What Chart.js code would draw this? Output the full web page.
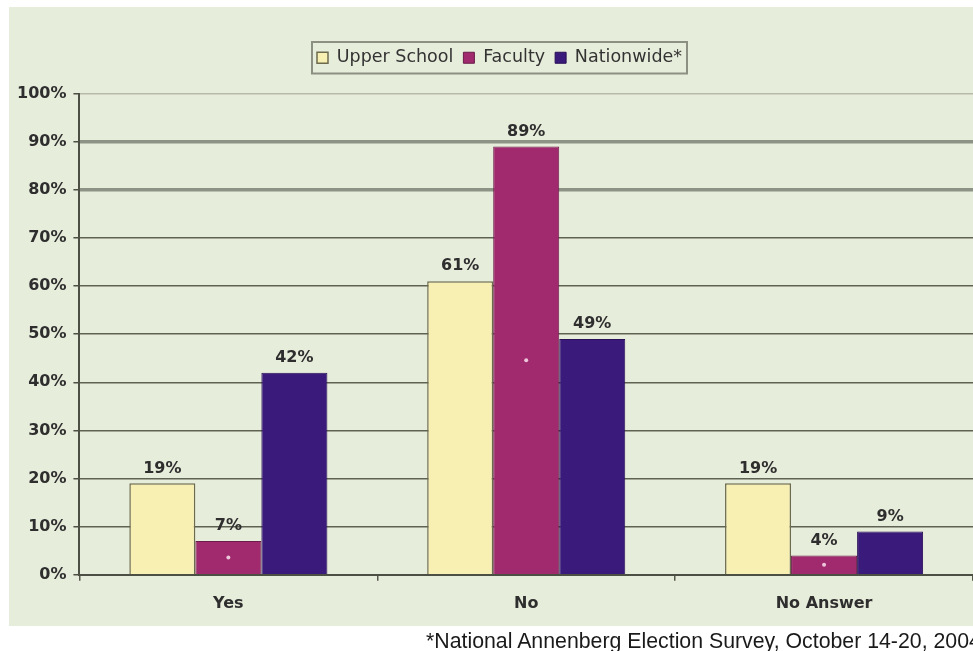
<!DOCTYPE html>
<html>
<head>
<meta charset="utf-8">
<script src="https://cdn.jsdelivr.net/npm/chart.js@4"></script>
<style>
  html, body { margin: 0; padding: 0; background: #fff; overflow: hidden; }
  #wrap { position: relative; width: 973px; height: 651px; }
  #note {
    position: absolute; left: 426px; top: 629px;
    font: 21.3px "Liberation Sans", Arial, sans-serif; color: #1a1a1a;
    white-space: nowrap;
  }
</style>
</head>
<body>
<div id="wrap">
  <canvas id="chart" width="973" height="651"></canvas>
  <div id="note">*National Annenberg Election Survey, October 14-20, 2004</div>
</div>
<script>
var categories = ['Yes', 'No', 'No Answer'];
var upperSchool = [19, 61, 19];
var faculty = [7, 89, 4];
var nationwide = [42, 49, 9];
var yTicks = [0, 10, 20, 30, 40, 50, 60, 70, 80, 90, 100];

var LEGEND_SHIFT = 8;

// greenish panel behind the whole plot
var panel = {
    id: 'panel',
    beforeDraw: function (chart) {
        var ctx = chart.ctx;
        ctx.save();
        ctx.fillStyle = '#e7eddb';
        ctx.fillRect(9, 7, chart.width - 9, 619);
        ctx.restore();
    }
};

// empty layout box that opens a gap between legend and plot
var legendGap = {
    id: 'legendGap',
    beforeInit: function (chart) {
        var gap = {
            position: 'top',
            weight: 500,
            fullSize: true,
            options: {},
            left: 0, top: 0, right: 0, bottom: 0, width: 0, height: 0,
            isHorizontal: function () { return true; },
            getPadding: function () { return { left: 0, top: 0, right: 0, bottom: 0 }; },
            update: function (maxWidth) {
                this.width = maxWidth;
                this.height = 17;
            },
            draw: function () {}
        };
        Chart.layouts.addBox(chart, gap);
    },
    // nudge the legend a little to the right of centre
    afterLayout: function (chart) {
        var lg = chart.legend;
        if (!lg) return;
        lg.left += LEGEND_SHIFT;
        lg.right += LEGEND_SHIFT;
    }
};

// frame round the legend
var legendFrame = {
    id: 'legendFrame',
    afterDraw: function (chart) {
        var boxes = chart.legend.legendHitBoxes;
        if (!boxes || !boxes.length) return;
        var l = boxes[0].left, r = 0, t = boxes[0].top, b = 0;
        boxes.forEach(function (h) {
            l = Math.min(l, h.left);
            r = Math.max(r, h.left + h.width);
            t = Math.min(t, h.top);
            b = Math.max(b, h.top + h.height);
        });
        var ctx = chart.ctx;
        ctx.save();
        ctx.strokeStyle = '#8b9083';
        ctx.lineWidth = 2;
        ctx.strokeRect(l - 5, t - 7, r - l + 10, b - t + 14);
        ctx.restore();
    }
};

// percent labels over the bars, plus the little dot in the faculty bars
var barLabels = {
    id: 'barLabels',
    afterDatasetsDraw: function (chart) {
        var ctx = chart.ctx;
        ctx.save();
        chart.data.datasets.forEach(function (ds, i) {
            chart.getDatasetMeta(i).data.forEach(function (bar, j) {
                ctx.fillStyle = '#2e2e2e';
                ctx.font = 'bold 16px "DejaVu Sans"';
                ctx.textAlign = 'center';
                ctx.textBaseline = 'middle';
                ctx.fillText(ds.data[j] + '%', bar.x, bar.y - 15);
                if (i === 1) {
                    ctx.fillStyle = '#ecc7dc';
                    ctx.beginPath();
                    ctx.arc(bar.x, (bar.y + bar.base) / 2, 2, 0, Math.PI * 2);
                    ctx.fill();
                }
            });
        });
        ctx.restore();
    }
};

function gridColor(c) {
    var v = c.tick ? c.tick.value : 0;
    if (v === 80 || v === 90) return '#8e9485';
    if (v === 100) return '#b5bba8';
    if (v === 0) return 'rgba(0,0,0,0)';
    return '#5e6253';
}
function gridWidth(c) {
    var v = c.tick ? c.tick.value : 0;
    return (v === 80 || v === 90) ? 3.5 : 1.5;
}

var chart = new Chart('chart', {
    type: 'bar',
    data: {
        labels: categories,
        datasets: [
            {
                label: 'Upper School',
                data: upperSchool,
                backgroundColor: '#f8f0b3',
                borderColor: '#6d6a4e',
                borderWidth: 1.5
            },
            {
                label: 'Faculty',
                data: faculty,
                backgroundColor: '#a1296d',
                borderColor: '#6b1c4a',
                borderWidth: 1
            },
            {
                label: 'Nationwide*',
                data: nationwide,
                backgroundColor: '#3a1a7a',
                borderColor: '#2a1058',
                borderWidth: 1
            }
        ]
    },
    options: {
        responsive: false,
        animation: false,
        categoryPercentage: 0.665,
        barPercentage: 1,
        layout: {
            padding: { top: 39, left: 10, right: 0, bottom: 25 }
        },
        plugins: {
            tooltip: { enabled: false },
            legend: {
                position: 'top',
                labels: {
                    boxWidth: 11,
                    boxHeight: 11,
                    padding: 10,
                    color: '#333',
                    font: { family: '"DejaVu Sans"', size: 17.5 }
                }
            }
        },
        scales: {
            x: {
                offset: true,
                grid: {
                    offset: true,
                    drawOnChartArea: false,
                    tickLength: 6,
                    color: '#55584b',
                    lineWidth: 1.5
                },
                border: { color: '#4c4f43', width: 2 },
                ticks: {
                    padding: 13,
                    color: '#2e2e2e',
                    font: { family: '"DejaVu Sans"', weight: 'bold', size: 16 }
                }
            },
            y: {
                min: 0,
                max: 100,
                afterBuildTicks: function (scale) {
                    scale.ticks = yTicks.map(function (v) { return { value: v }; });
                },
                grid: {
                    color: gridColor,
                    lineWidth: gridWidth,
                    tickLength: 6,
                    tickColor: '#4c4f43',
                    tickWidth: 1.5
                },
                border: { color: '#4c4f43', width: 2 },
                ticks: {
                    padding: 7,
                    color: '#2e2e2e',
                    font: { family: '"DejaVu Sans"', weight: 'bold', size: 16 },
                    callback: function (v) { return v + '%'; }
                }
            }
        }
    },
    plugins: [panel, legendGap, legendFrame, barLabels]
});
</script>
</body>
</html>
